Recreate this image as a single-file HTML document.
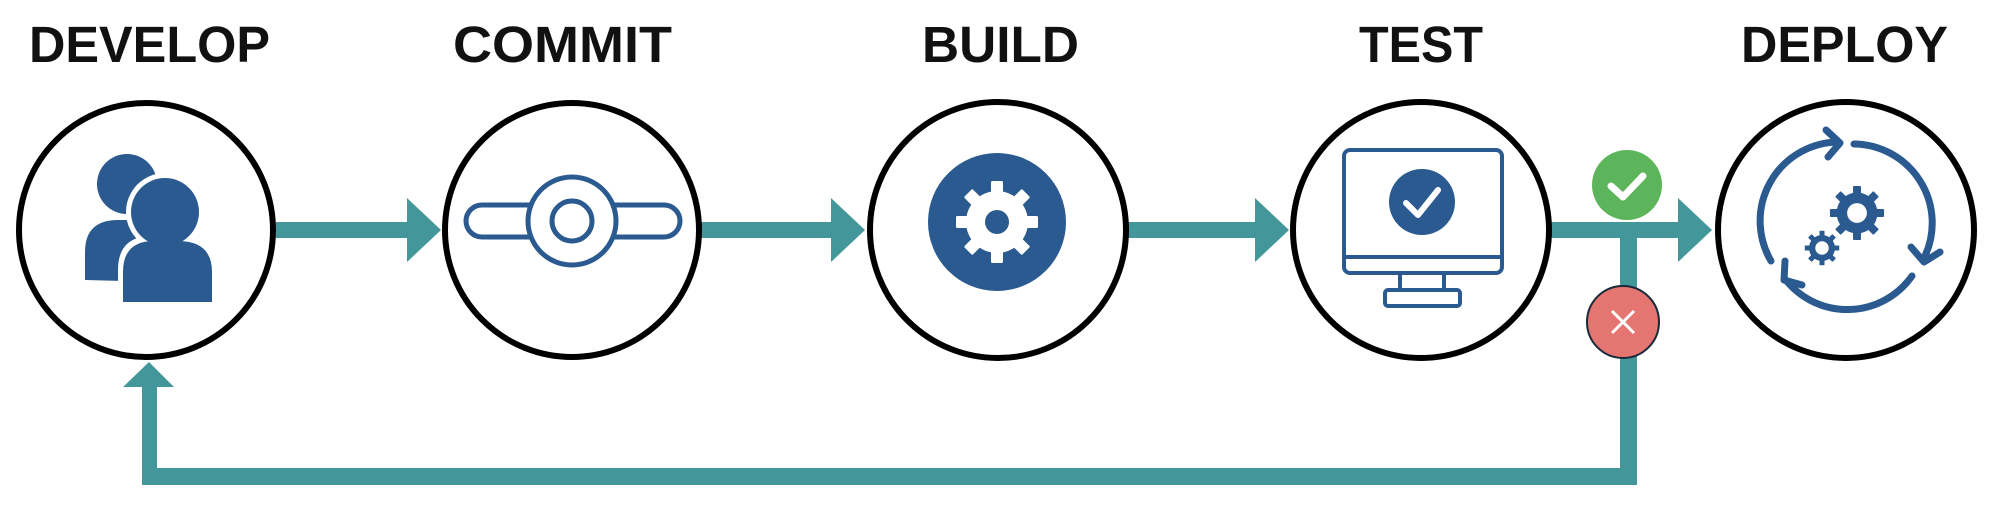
<!DOCTYPE html>
<html><head><meta charset="utf-8"><style>
html,body{margin:0;padding:0;background:#fff;}
svg{display:block}
text{font-family:"Liberation Sans",sans-serif;font-weight:bold;fill:#111;}
</style></head><body>
<svg width="1994" height="506" viewBox="0 0 1994 506" xmlns="http://www.w3.org/2000/svg">
<defs>
<g id="teeth8">
<rect x="-6" y="-41" width="12" height="14" rx="1.5"/>
<rect x="-6" y="-41" width="12" height="14" rx="1.5" transform="rotate(45)"/>
<rect x="-6" y="-41" width="12" height="14" rx="1.5" transform="rotate(90)"/>
<rect x="-6" y="-41" width="12" height="14" rx="1.5" transform="rotate(135)"/>
<rect x="-6" y="-41" width="12" height="14" rx="1.5" transform="rotate(180)"/>
<rect x="-6" y="-41" width="12" height="14" rx="1.5" transform="rotate(225)"/>
<rect x="-6" y="-41" width="12" height="14" rx="1.5" transform="rotate(270)"/>
<rect x="-6" y="-41" width="12" height="14" rx="1.5" transform="rotate(315)"/>
</g>
</defs>
<!-- labels -->
<text x="29" y="62" font-size="51" textLength="241" lengthAdjust="spacingAndGlyphs">DEVELOP</text>
<text x="453" y="62" font-size="51" textLength="219" lengthAdjust="spacingAndGlyphs">COMMIT</text>
<text x="922" y="62" font-size="51" textLength="157" lengthAdjust="spacingAndGlyphs">BUILD</text>
<text x="1359" y="62" font-size="51" textLength="124" lengthAdjust="spacingAndGlyphs">TEST</text>
<text x="1741" y="62" font-size="51" textLength="207" lengthAdjust="spacingAndGlyphs">DEPLOY</text>

<g fill="#43979a">
<rect x="276" y="222" width="134" height="16"/>
<polygon points="407,198 441,230 407,262"/>
<rect x="700" y="222" width="134" height="16"/>
<polygon points="831,198 865,230 831,262"/>
<rect x="1125" y="222" width="133" height="16"/>
<polygon points="1255,198 1289,230 1255,262"/>
<rect x="1547" y="222" width="134" height="16"/>
<polygon points="1678,198 1712,230 1678,262"/>
<rect x="1620" y="230" width="17" height="255"/>
<rect x="142" y="468" width="1495" height="17"/>
<rect x="142" y="380" width="15" height="105"/>
<polygon points="123,387 149,362 174,387"/>
</g>

<g fill="#fff" stroke="#000" stroke-width="6">
<circle cx="146" cy="230" r="127"/>
<circle cx="572" cy="230" r="127"/>
<circle cx="998" cy="230" r="128"/>
<circle cx="1421" cy="230" r="128"/>
<circle cx="1846" cy="230" r="128"/>
</g>

<!-- develop people -->
<g fill="#2a5a8f">
<circle cx="127" cy="184" r="30"/>
<path d="M85,280 L85,252 Q85,220 118,220 L140,220 Q165,220 168,245 L160,282 Z"/>
<circle cx="165" cy="212" r="39" fill="#fff"/>
<path d="M118,306 L118,270 Q118,236 152,236 L180,236 Q217,236 217,270 L217,306 Z" fill="#fff"/>
<circle cx="165" cy="212" r="34"/>
<path d="M123,302 L123,272 Q123,241 154,241 L178,241 Q212,241 212,272 L212,302 Z"/>
</g>

<!-- commit icon -->
<g fill="#fff" stroke="#2a5a8f" stroke-width="5">
<rect x="466" y="205" width="214" height="32" rx="16"/>
<circle cx="572" cy="221" r="44"/>
<circle cx="572" cy="221" r="20"/>
</g>

<!-- build icon -->
<circle cx="997" cy="222" r="69" fill="#2a5a8f"/>
<g transform="translate(997,222)" fill="#fff">
<circle r="31"/>
<use href="#teeth8"/>
<circle r="12" fill="#2a5a8f"/>
</g>

<!-- test icon -->
<g fill="none" stroke="#2a5a8f" stroke-width="4">
<rect x="1344" y="150" width="158" height="123" rx="6"/>
<line x1="1344" y1="257" x2="1502" y2="257"/>
<rect x="1400" y="273" width="44" height="17"/>
<rect x="1385" y="290" width="75" height="16" rx="3"/>
</g>
<circle cx="1422" cy="202" r="33" fill="#2a5a8f"/>
<polyline points="1406,203 1418,215 1438,190" fill="none" stroke="#fff" stroke-width="6" stroke-linecap="round" stroke-linejoin="round"/>

<!-- pass / fail -->
<circle cx="1627" cy="185" r="35" fill="#5cb55a"/>
<polyline points="1611,186 1623,197 1643,176" fill="none" stroke="#fff" stroke-width="7" stroke-linecap="round" stroke-linejoin="round"/>
<circle cx="1623" cy="322" r="36" fill="#e57570" stroke="#1a2a3a" stroke-width="2"/>
<g stroke="#fff" stroke-width="3"><line x1="1612" y1="311" x2="1634" y2="333"/><line x1="1634" y1="311" x2="1612" y2="333"/></g>

<!-- deploy icon -->
<g fill="none" stroke="#2a5a8f" stroke-width="7" stroke-linecap="round" stroke-linejoin="round">
<path d="M1771,261 A79,79 0 0 1 1838,142"/>
<polyline points="1826,130 1840,143 1828,157"/>
<path d="M1854,144 A79,79 0 0 1 1925,256"/>
<polyline points="1911,247 1924,262 1940,252"/>
<path d="M1912,276 A79,79 0 0 1 1785,279"/>
<polyline points="1785,261 1784,280 1802,285"/>
</g>
<g transform="translate(1857,213) scale(0.66)" fill="#2a5a8f">
<use href="#teeth8"/>
<circle r="31"/>
<circle r="15" fill="#fff"/>
</g>
<g transform="translate(1822,248) scale(0.42)" fill="#2a5a8f">
<use href="#teeth8"/>
<circle r="31"/>
<circle r="16" fill="#fff"/>
</g>
</svg>
</body></html>
